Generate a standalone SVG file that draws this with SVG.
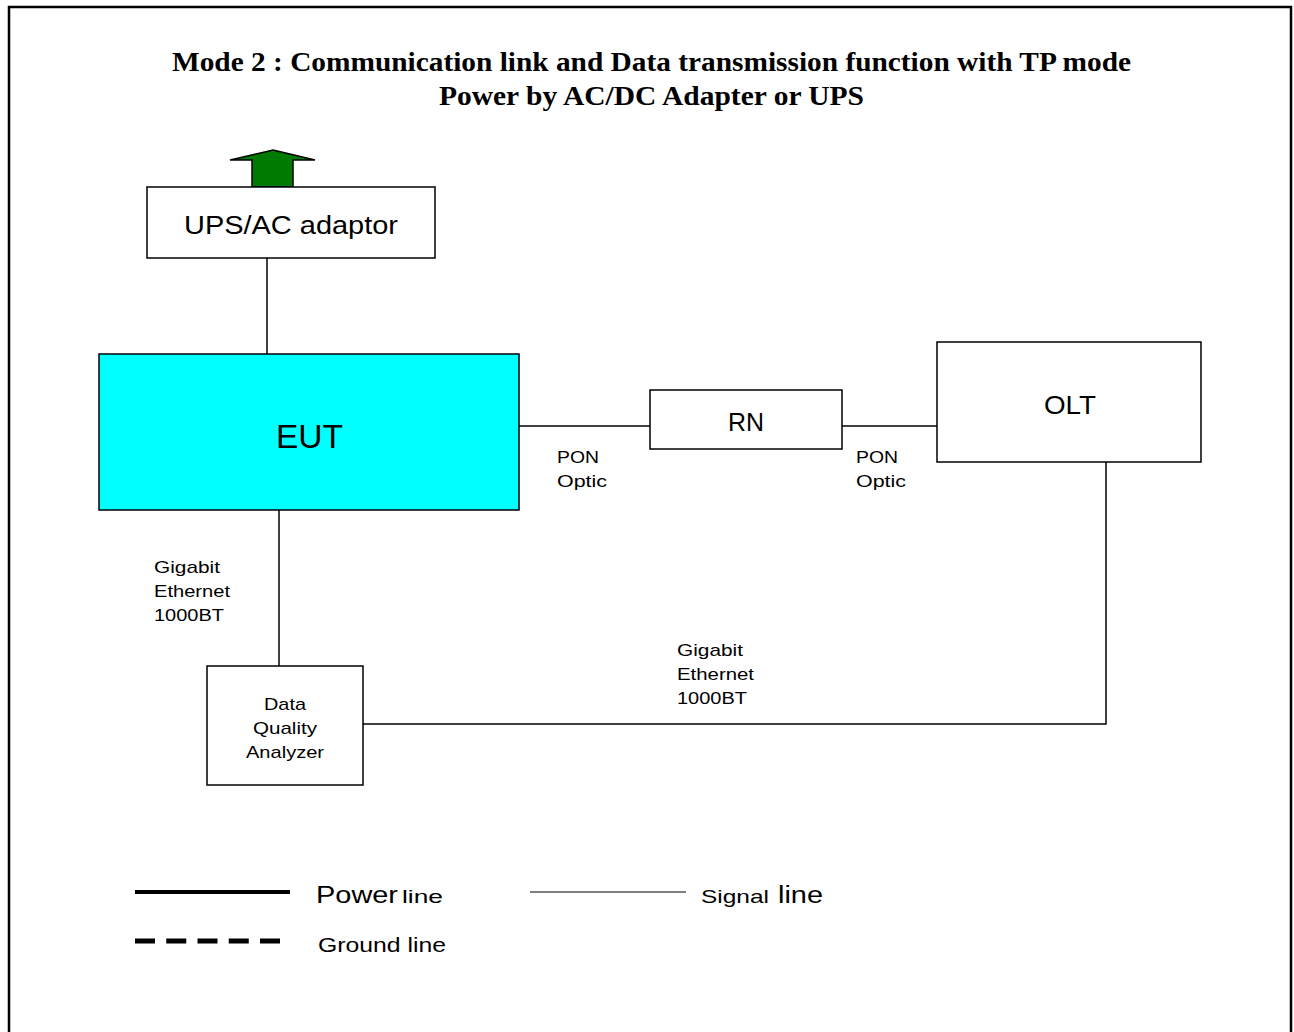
<svg xmlns="http://www.w3.org/2000/svg" width="1294" height="1032" viewBox="0 0 1294 1032">
<style>
.box{fill:#fff;stroke:#000;stroke-width:1.5}
.ln{stroke:#000;stroke-width:1.5;fill:none}
.t{font-family:"Liberation Sans",Arial,sans-serif;fill:#000}
.ttl{font-family:"Liberation Serif","Times New Roman",serif;font-weight:bold;font-size:27px;fill:#000}
</style>
<rect x="0" y="0" width="1294" height="1032" fill="#fff"/>
<rect x="9" y="7" width="1282" height="1040" fill="none" stroke="#000" stroke-width="2.5"/>
<text class="ttl" x="172" y="71" textLength="959" lengthAdjust="spacingAndGlyphs">Mode 2 : Communication link and Data transmission function with TP mode</text>
<text class="ttl" x="439" y="105" textLength="425" lengthAdjust="spacingAndGlyphs">Power by AC/DC Adapter or UPS</text>
<g id="connectors">
<line class="ln" x1="267" y1="258" x2="267" y2="354"/>
<line class="ln" x1="519" y1="426" x2="650" y2="426"/>
<line class="ln" x1="842" y1="426" x2="937" y2="426"/>
<line class="ln" x1="279" y1="510" x2="279" y2="666"/>
<polyline class="ln" points="363,724 1106,724 1106,462"/>
</g>
<g id="power-arrow">
<polygon points="273,150 315,160 293,160 293,187 252,187 252,160 230,160" fill="#007a00" stroke="#000" stroke-width="1.5"/>
</g>
<g id="ups">
<rect class="box" x="147" y="187" width="288" height="71"/>
<text class="t" x="184" y="234" font-size="25" textLength="214" lengthAdjust="spacingAndGlyphs">UPS/AC adaptor</text>
</g>
<g id="eut">
<rect x="99" y="354" width="420" height="156" fill="#00ffff" stroke="#000" stroke-width="1.5"/>
<text class="t" x="276" y="448" font-size="33" textLength="67" lengthAdjust="spacingAndGlyphs">EUT</text>
</g>
<g id="rn">
<rect class="box" x="650" y="390" width="192" height="59"/>
<text class="t" x="728" y="431" font-size="25" textLength="36" lengthAdjust="spacingAndGlyphs">RN</text>
</g>
<g id="olt">
<rect class="box" x="937" y="342" width="264" height="120"/>
<text class="t" x="1044" y="414" font-size="25" textLength="52" lengthAdjust="spacingAndGlyphs">OLT</text>
</g>
<g id="dqa">
<rect class="box" x="207" y="666" width="156" height="119"/>
<text class="t" x="264" y="710" font-size="17" textLength="42" lengthAdjust="spacingAndGlyphs">Data</text>
<text class="t" x="253" y="734" font-size="17" textLength="64" lengthAdjust="spacingAndGlyphs">Quality</text>
<text class="t" x="246" y="758" font-size="17" textLength="78" lengthAdjust="spacingAndGlyphs">Analyzer</text>
</g>
<g id="labels" class="t" font-size="17">
<text x="557" y="463" textLength="42" lengthAdjust="spacingAndGlyphs">PON</text>
<text x="557" y="487" textLength="50" lengthAdjust="spacingAndGlyphs">Optic</text>
<text x="856" y="463" textLength="42" lengthAdjust="spacingAndGlyphs">PON</text>
<text x="856" y="487" textLength="50" lengthAdjust="spacingAndGlyphs">Optic</text>
<text x="154" y="573" textLength="66" lengthAdjust="spacingAndGlyphs">Gigabit</text>
<text x="154" y="597" textLength="76" lengthAdjust="spacingAndGlyphs">Ethernet</text>
<text x="154" y="621" textLength="70" lengthAdjust="spacingAndGlyphs">1000BT</text>
<text x="677" y="656" textLength="66" lengthAdjust="spacingAndGlyphs">Gigabit</text>
<text x="677" y="680" textLength="77" lengthAdjust="spacingAndGlyphs">Ethernet</text>
<text x="677" y="704" textLength="70" lengthAdjust="spacingAndGlyphs">1000BT</text>
</g>
<g id="legend">
<line x1="135" y1="892" x2="290" y2="892" stroke="#000" stroke-width="4"/>
<line x1="135" y1="941" x2="280" y2="941" stroke="#000" stroke-width="5" stroke-dasharray="20,11.25"/>
<line x1="530" y1="892" x2="686" y2="892" stroke="#000" stroke-width="1.2"/>
<text class="t" x="316" y="903" font-size="23" textLength="82" lengthAdjust="spacingAndGlyphs">Power</text>
<text class="t" x="402" y="903" font-size="19" textLength="41" lengthAdjust="spacingAndGlyphs">line</text>
<text class="t" x="701" y="903" font-size="19" textLength="68" lengthAdjust="spacingAndGlyphs">Signal</text>
<text class="t" x="778" y="903" font-size="23" textLength="45" lengthAdjust="spacingAndGlyphs">line</text>
<text class="t" x="318" y="952" font-size="20" textLength="128" lengthAdjust="spacingAndGlyphs">Ground line</text>
</g>
</svg>
